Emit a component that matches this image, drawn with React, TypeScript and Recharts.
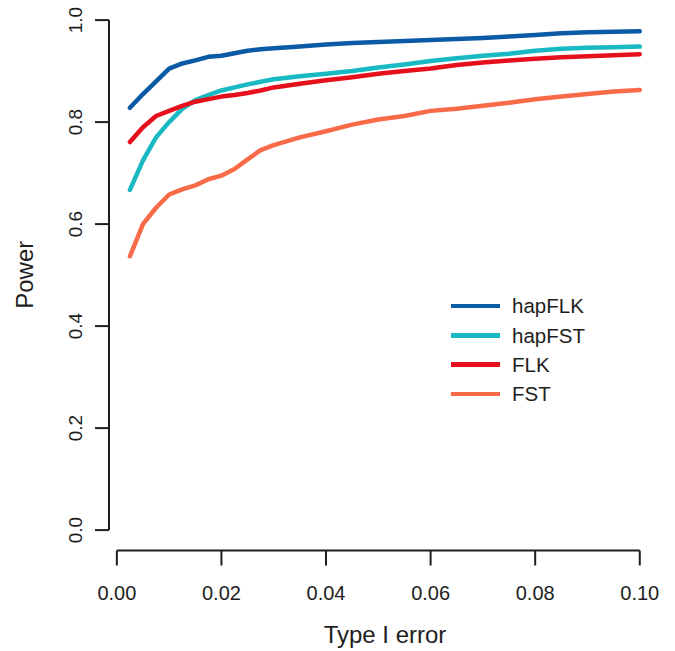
import React from "react";
import { LineChart, Line, XAxis, YAxis, ReferenceLine, Legend } from "recharts";

const typeIError = [0.0025, 0.005, 0.0075, 0.01, 0.0125, 0.015, 0.0175, 0.02, 0.0225, 0.025, 0.0275, 0.03, 0.035, 0.04, 0.045, 0.05, 0.055, 0.06, 0.065, 0.07, 0.075, 0.08, 0.085, 0.09, 0.095, 0.1];
const hapFLK = [0.828, 0.855, 0.88, 0.905, 0.915, 0.921, 0.928, 0.930, 0.935, 0.940, 0.943, 0.945, 0.948, 0.952, 0.955, 0.957, 0.959, 0.961, 0.963, 0.965, 0.968, 0.971, 0.974, 0.976, 0.977, 0.978];
const hapFST = [0.667, 0.725, 0.77, 0.80, 0.826, 0.843, 0.853, 0.862, 0.868, 0.874, 0.879, 0.884, 0.89, 0.895, 0.90, 0.907, 0.913, 0.92, 0.925, 0.93, 0.934, 0.94, 0.944, 0.946, 0.947, 0.948];
const FLK = [0.761, 0.79, 0.812, 0.822, 0.832, 0.84, 0.845, 0.85, 0.853, 0.857, 0.862, 0.868, 0.875, 0.882, 0.888, 0.895, 0.90, 0.905, 0.912, 0.917, 0.921, 0.924, 0.927, 0.929, 0.931, 0.933];
const FST = [0.537, 0.6, 0.632, 0.658, 0.668, 0.676, 0.688, 0.695, 0.708, 0.727, 0.745, 0.755, 0.77, 0.782, 0.795, 0.805, 0.812, 0.822, 0.826, 0.832, 0.838, 0.845, 0.85, 0.855, 0.86, 0.863];

const xTicks = [0, 0.02, 0.04, 0.06, 0.08, 0.1];
const yTicks = [0, 0.2, 0.4, 0.6, 0.8, 1.0];

const seriesNames = ["hapFLK", "hapFST", "FLK", "FST"];
const seriesColors = ["#0b5aa6", "#19b9c3", "#e5101c", "#f96a48"];
const seriesValues = [hapFLK, hapFST, FLK, FST];

const data = typeIError.map((x, i) => {
  const row: Record<string, number> = { x };
  seriesNames.forEach((n, k) => {
    row[n] = seriesValues[k][i];
  });
  return row;
});

const FONT = "'Liberation Sans', Arial, Helvetica, sans-serif";
const INK = "#1e1e1e";

const YTick = (props: any) => {
  const { x, y, payload } = props;
  const tx = x - 13;
  return (
    <text
      x={tx}
      y={y}
      transform={`rotate(-90, ${tx}, ${y})`}
      textAnchor="middle"
      fontFamily={FONT}
      fontSize={19}
      fill={INK}
    >
      {Number(payload.value).toFixed(1)}
    </text>
  );
};

const XLabel = (props: any) => {
  const { viewBox } = props;
  const cx = viewBox.x + viewBox.width / 2 + 8;
  return (
    <text x={cx} y={viewBox.y + 92.5} textAnchor="middle" fontFamily={FONT} fontSize={24} fill={INK}>
      Type I error
    </text>
  );
};

const YLabel = (props: any) => {
  const { viewBox } = props;
  const tx = 33;
  const ty = viewBox.y + viewBox.height / 2 - 8;
  return (
    <text x={tx} y={ty} transform={`rotate(-90, ${tx}, ${ty})`} textAnchor="middle" fontFamily={FONT} fontSize={24} fill={INK}>
      Power
    </text>
  );
};

const LegendBox = () => (
  <div style={{ fontFamily: FONT, fontSize: 20.5, color: INK }}>
    {seriesNames.map((n, i) => (
      <div key={n} style={{ display: "flex", alignItems: "center", height: 29.3 }}>
        <div style={{ width: 49, height: 4.5, background: seriesColors[i] }} />
        <span style={{ marginLeft: 12, lineHeight: "29.3px", whiteSpace: "nowrap" }}>{n}</span>
      </div>
    ))}
  </div>
);

export default function App() {
  return (
    <div style={{ position: "absolute", left: 0, top: 0, width: 675, height: 651, background: "#fff" }}>
      <LineChart width={675} height={651} data={data} margin={{ top: 15, right: 30, bottom: 0, left: 0 }}>
        <XAxis
          type="number"
          dataKey="x"
          domain={[-0.0015, 0.101]}
          ticks={xTicks}
          allowDataOverflow
          height={100.5}
          axisLine={false}
          tickLine={{ stroke: INK, strokeWidth: 2 }}
          tickSize={15}
          tickMargin={20}
          tick={{ fontFamily: FONT, fontSize: 20, fill: INK }}
          tickFormatter={(v: number) => v.toFixed(2)}
          label={<XLabel />}
        />
        <YAxis
          type="number"
          domain={[-0.04, 1.01]}
          ticks={yTicks}
          allowDataOverflow
          width={109}
          axisLine={false}
          tickLine={{ stroke: INK, strokeWidth: 2 }}
          tickSize={14}
          tickMargin={0}
          tick={<YTick />}
          label={<YLabel />}
        />
        <ReferenceLine
          segment={[{ x: 0, y: -0.04 }, { x: 0.1, y: -0.04 }]}
          stroke={INK}
          strokeWidth={2}
          ifOverflow="visible"
        />
        <ReferenceLine
          segment={[{ x: -0.0015, y: 0 }, { x: -0.0015, y: 1 }]}
          stroke={INK}
          strokeWidth={2}
          ifOverflow="visible"
        />
        {seriesNames.map((n, i) => (
          <Line
            key={n}
            type="linear"
            dataKey={n}
            stroke={seriesColors[i]}
            strokeWidth={4.5}
            strokeLinecap="round"
            strokeLinejoin="round"
            dot={false}
            activeDot={false}
            isAnimationActive={false}
          />
        ))}
        <Legend
          layout="vertical"
          align="center"
          verticalAlign="middle"
          content={<LegendBox />}
          wrapperStyle={{ left: 451, top: 291.4, width: "auto" }}
        />
      </LineChart>
    </div>
  );
}
